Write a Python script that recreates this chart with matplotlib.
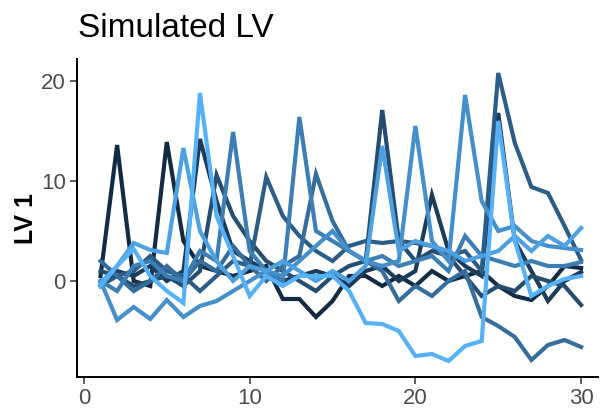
import matplotlib
matplotlib.use("Agg")
import matplotlib.pyplot as plt
import numpy as np

plt.rcParams['font.family'] = ['Liberation Sans', 'DejaVu Sans']

time = np.arange(1, 31)

lv_a = [0.5, 13.6, 0, -0.5, 13.9, 4, 1.5, 1, 0.5, 1, 1.5, -1.8, -1.8, -3.6, -2, 0.5, 0.5, -0.5, 0.5, -0.5,
        1, 0, 0.5, 1, -0.5, -1.5, -1.9, -0.5, 1.5, 1.3]
lv_b = [-0.5, 1, 0.5, 1.5, 0, 1, 14.2, 8, 3, 2, 1, 0, 0.5, 1, 0.5, -0.5, 1, 1.5, 0, 1,
        8.6, 3, 1.5, 0.5, 16.8, 4, 1, -2, 0, 0.9]
lv_c = [1, 0.5, -0.5, 0, 0.5, -0.5, 1, 10.6, 6.5, 4, 2, 1, 0, -1, 0.5, 1.5, 2, 17.1, 4, 2,
        3, 2.5, 0.5, -1.5, -0.5, -1, 0.5, 0, -0.5, -2.4]
lv_d = [-0.5, 0.5, 1, 2.5, 1, 0.5, -1, 0.5, 2, 1.5, 10.4, 6.5, 4.5, 3, 2, 3.5, 4, 3.8, 4, 3.8,
        3.5, 2.5, 3, 1, 20.8, 13.8, 9.4, 8.8, 5.5, 2.1]
lv_e = [2, 0.5, -1, 0, 1.5, 0, 2, 1, 3.5, 1.5, 0, 1.5, 2.5, 10.7, 6, 3, 2, 1, -2, -0.5,
        -1.5, 0, 1, -3.6, -4.5, -5.6, -7.9, -6.4, -5.9, -6.6]
lv_f = [0, -1, 1.5, 2, 0.5, 0, 3, 2, 14.9, 3, 1, 0, 16.4, 5, 4, 3, 2, 2.5, 1.5, 2,
        2.5, 1, 4.5, 2.5, 2, 1.5, 2, 1.5, 1.5, 1.9]
lv_g = [0, -3.9, -2.6, -3.8, -1.9, -3.6, -2.5, -2, -1, 0, 1, 0.5, 2, 3.5, 5, 3, 2, 1.5, 2, 15.5,
        4, 2, 18.6, 8, 5, 5.5, 4, 3.5, 3.3, 3.1]
lv_h = [-0.2, 1.5, 3.8, 3.1, 2.8, 13.3, 5, 2, 0, 1.5, 1, 2, 1, 0, 1, 0, 1.5, 13.5, 3, 4,
        3.5, 3, 2, 2.5, 3, 4.5, 3, 4.5, 3.5, 5.3]
lv_i = [-0.5, 1.5, 3.2, 0.5, -1, -2.2, 18.8, 6.5, 2.5, -1.5, 0.5, -0.5, 0.5, 0.5, 0.5, -1, -4.2, -4.3, -5, -7.5,
        -7.3, -8, -6.5, -6, 16.0, 4, -1.5, -0.5, 0.2, 0.5]

series = [lv_a, lv_b, lv_c, lv_d, lv_e, lv_f, lv_g, lv_h, lv_i]

fig = plt.figure(figsize=(6, 4.17), dpi=100)
ax = fig.add_axes([77 / 600, 1 - 377 / 417, 521 / 600, 318 / 417])

cmap = matplotlib.colors.LinearSegmentedColormap.from_list("gg", ["#132B43", "#56B1F7"])
for k, s in enumerate(series):
    ax.plot(time, s, color=cmap(k / (len(series) - 1)), lw=3, solid_joinstyle='miter')

ax.set_xlim(-0.42, 31.02)
ax.set_ylim(-9.6, 22.2)
ax.set_xticks([0, 10, 20, 30])
ax.set_yticks([0, 10, 20])
for side in ['top', 'right']:
    ax.spines[side].set_visible(False)
for side in ['left', 'bottom']:
    ax.spines[side].set_linewidth(1.4)
ax.tick_params(labelsize=16, labelcolor='#4D4D4D', color='#333333', length=5, width=1.1, pad=3)
ax.set_ylabel("LV 1", fontsize=18, fontweight='bold', labelpad=2)
fig.text(78 / 600, 1 - 37 / 417, "Simulated LV", fontsize=24, va='baseline', ha='left')

fig.savefig("out.png", dpi=100)
